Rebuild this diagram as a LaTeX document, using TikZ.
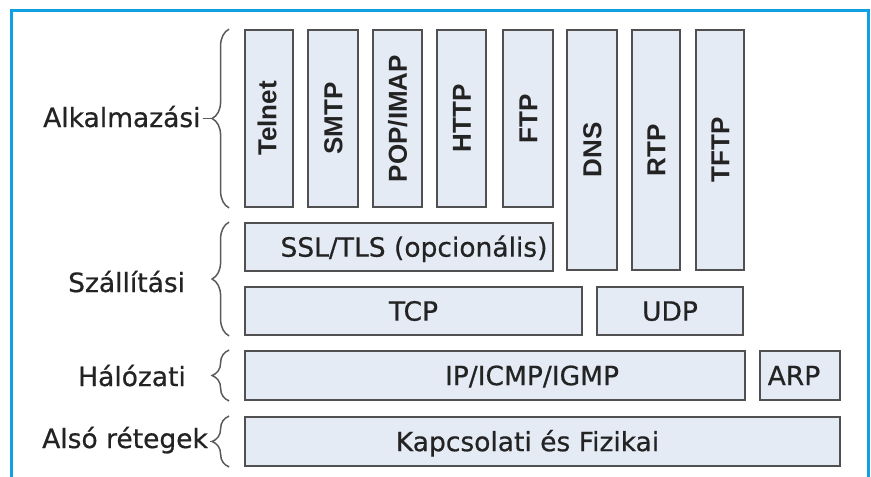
\documentclass[tikz,border=0pt]{standalone}
\usepackage{fontspec}
\setmainfont{DejaVu Sans}[FakeBold=0.6]
\newfontfamily\vfont{Liberation Sans Bold}
\usetikzlibrary{decorations.pathreplacing,calc,fit}
\definecolor{framecol}{RGB}{14,160,226}
\definecolor{boxfill}{RGB}{229,235,245}
\definecolor{boxline}{RGB}{80,80,80}
\definecolor{inkcol}{RGB}{35,35,35}
\definecolor{bracecol}{RGB}{90,90,90}
\begin{document}
\begin{tikzpicture}[x=1pt,y=-1pt,
  layerbox/.style={draw=boxline, fill=boxfill, line width=1.8pt, inner sep=0pt},
  vtext/.style={rotate=90, font=\vfont\fontsize{26}{26}\selectfont, text=inkcol,
                text height=18.6pt, text depth=0pt, inner sep=0pt},
  htext/.style={font=\fontsize{26.5}{27}\selectfont, text=inkcol,
                text height=19.3pt, text depth=0pt, inner sep=0pt},
  lbl/.style={font=\fontsize{26.5}{27}\selectfont, text=inkcol, inner sep=0pt},
  brc/.style={draw=bracecol, line width=1.5pt},
  curly/.style={brc, decorate, decoration={brace, amplitude=17pt}}]
\useasboundingbox (0,0) rectangle (871,477);

% frame open at the bottom
\draw[framecol, line width=3pt] (11,477) -- (11,10) -- (868,10) -- (868,477);

% application protocols (vertical boxes)
\node[layerbox, fit={(245,30) (293,207)}] (telnet) {};
\node[layerbox, fit={(308,30) (358,207)}] (smtp) {};
\node[layerbox, fit={(373,30) (422,207)}] (pop) {};
\node[layerbox, fit={(437,30) (486,207)}] (http) {};
\node[layerbox, fit={(503,30) (553,207)}] (ftp) {};
\node[layerbox, fit={(567,30) (617,270)}] (dns) {};
\node[layerbox, fit={(632,30) (680,270)}] (rtp) {};
\node[layerbox, fit={(696,30) (744,270)}] (tftp) {};

\node[vtext] (telnett) at ($(telnet.center)+(-2,0)$) {Telnet};
\node[vtext] (smtpt) at (smtp.center) {SMTP};
\node[vtext] (popt) at (pop.center) {POP/IMAP};
\node[vtext] (httpt) at (http.center) {HTTP};
\node[vtext] (ftpt) at (ftp.center) {FTP};
\node[vtext] (dnst) at (dns.center) {DNS};
\node[vtext] (rtpt) at (rtp.center) {RTP};
\node[vtext] (tftpt) at (tftp.center) {TFTP};

% transport, network and lower layers
\node[layerbox, fit={(245,223) (553,271)}] (ssl) {};
\node[layerbox, fit={(245,287) (582,335)}] (tcp) {};
\node[layerbox, fit={(597,287) (743,335)}] (udp) {};
\node[layerbox, fit={(245,351) (745,400)}] (ip) {};
\node[layerbox, fit={(760,351) (840,400)}] (arp) {};
\node[layerbox, fit={(245,417) (840,466)}] (link) {};

\node[htext] (sslt) at ($(ssl.center)+(15,0)$) {SSL/TLS (opcionális)};
\node[htext] (tcpt) at (tcp.center) {TCP};
\node[htext] (udpt) at (udp.center) {UDP};
\node[htext] (ipt) at ($(ip.center)+(37,0)$) {IP/ICMP/IGMP};
\node[htext] (arpt) at ($(arp.center)+(-6,0)$) {ARP};
\node[htext] (linkt) at ($(link.center)+(-15,0)$) {Kapcsolati és Fizikai};

% layer names
\node[lbl, anchor=base west] (alk) at (43,127) {Alkalmazási};
\node[lbl, anchor=base west] (szal) at (68,292) {Szállítási};
\node[lbl, anchor=base west] (hal) at (78,386) {Hálózati};
\node[lbl, anchor=base west] (also) at (42,448) {Alsó rétegek};

% braces grouping each layer
\draw[curly] ($(telnet.south west)+(-15,0)$) -- ($(telnet.north west)+(-15,0)$);
\draw[curly] ($(tcp.south west)+(-15,0)$) -- ($(ssl.north west)+(-15,0)$);
\draw[curly] ($(ip.south west)+(-15,0)$) -- ($(ip.north west)+(-15,0)$);
\draw[curly] ($(link.south west)+(-15,0)$) -- ($(link.north west)+(-15,0)$);

\coordinate (alktip) at ($(telnet.west)+(-32,0)$);
\coordinate (alsotip) at ($(link.west)+(-32,0)$);
\draw[brc] (alk.east |- alktip) ++(2,0) -- (alktip);
\draw[brc] (also.east |- alsotip) ++(2,0) -- (alsotip);
\end{tikzpicture}
\end{document}
